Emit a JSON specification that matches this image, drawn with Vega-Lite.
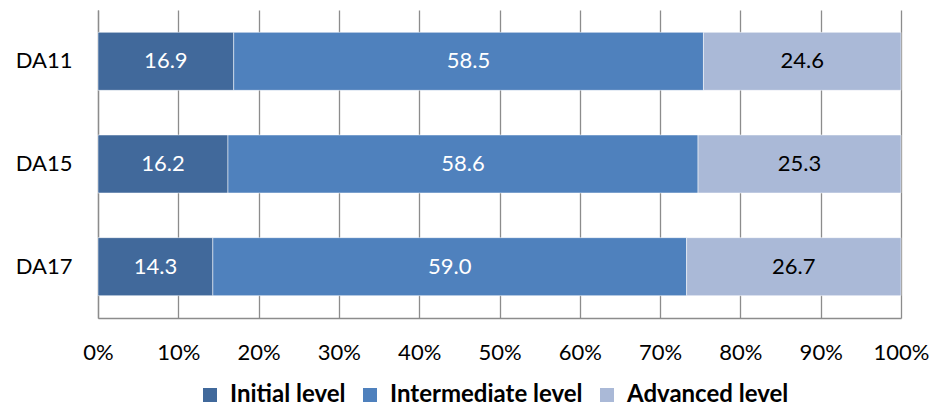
{
  "$schema": "https://vega.github.io/schema/vega-lite/v6.json",
  "width": 803,
  "height": 308,
  "autosize": {"type": "none"},
  "padding": {"left": 98, "top": 10, "right": 32, "bottom": 88},
  "config": {"font": "Lato", "view": {"stroke": null}},
  "data": {
    "values": [
      {"year": "DA11", "level": "Initial level", "share": 16.9},
      {"year": "DA11", "level": "Intermediate level", "share": 58.5},
      {"year": "DA11", "level": "Advanced level", "share": 24.6},
      {"year": "DA15", "level": "Initial level", "share": 16.2},
      {"year": "DA15", "level": "Intermediate level", "share": 58.6},
      {"year": "DA15", "level": "Advanced level", "share": 25.3},
      {"year": "DA17", "level": "Initial level", "share": 14.3},
      {"year": "DA17", "level": "Intermediate level", "share": 59.0},
      {"year": "DA17", "level": "Advanced level", "share": 26.7}
    ]
  },
  "transform": [
    {"stack": "share", "groupby": ["year"], "offset": "normalize", "as": ["lo", "hi"]},
    {"calculate": "(datum.lo + datum.hi) / 2", "as": "mid"}
  ],
  "layer": [
    {
      "mark": {"type": "bar", "stroke": "#ffffff", "strokeOpacity": 0.5, "strokeWidth": 1},
      "encoding": {
        "y": {
          "field": "year", "type": "nominal", "sort": null,
          "scale": {"paddingInner": 0.435, "paddingOuter": 0.2175},
          "axis": {
            "title": null, "ticks": false, "domain": true, "domainColor": "#8c8c8c", "domainWidth": 1.3,
            "labelFontSize": 22, "labelColor": "#000000", "labelPadding": 26
          }
        },
        "x": {
          "field": "lo", "type": "quantitative",
          "scale": {"domain": [0, 1], "nice": false},
          "axis": {
            "title": null, "format": ".0%", "values": [0, 0.1, 0.2, 0.3, 0.4, 0.5, 0.6, 0.7, 0.8, 0.9, 1],
            "grid": true, "gridColor": "#8c8c8c", "gridWidth": 1.3, "gridOpacity": 1,
            "ticks": false, "domain": true, "domainColor": "#8c8c8c", "domainWidth": 1.3,
            "labelFontSize": 22, "labelColor": "#000000", "labelPadding": 24, "labelFlush": false
          }
        },
        "x2": {"field": "hi"},
        "color": {
          "field": "level", "type": "nominal", "sort": null,
          "scale": {
            "domain": ["Initial level", "Intermediate level", "Advanced level"],
            "range": ["#41699b", "#4f81bd", "#aab9d7"]
          },
          "legend": {
            "title": null, "orient": "none", "legendX": 100, "legendY": 373,
            "direction": "horizontal", "columns": 3, "columnPadding": 12,
            "symbolType": "square", "symbolSize": 196, "symbolStrokeWidth": 0, "symbolOpacity": 1,
            "labelFontSize": 24, "labelFontWeight": "bold", "labelColor": "#000000", "labelOffset": 8,
            "labelLimit": 400
          }
        }
      }
    },
    {
      "mark": {"type": "text", "fontSize": 22},
      "encoding": {
        "y": {"field": "year", "type": "nominal", "sort": null},
        "x": {"field": "mid", "type": "quantitative"},
        "text": {"field": "share", "type": "quantitative", "format": ".1f"},
        "color": {
          "condition": {"test": "datum.level === 'Advanced level'", "value": "#000000"},
          "value": "#ffffff"
        }
      }
    }
  ]
}
